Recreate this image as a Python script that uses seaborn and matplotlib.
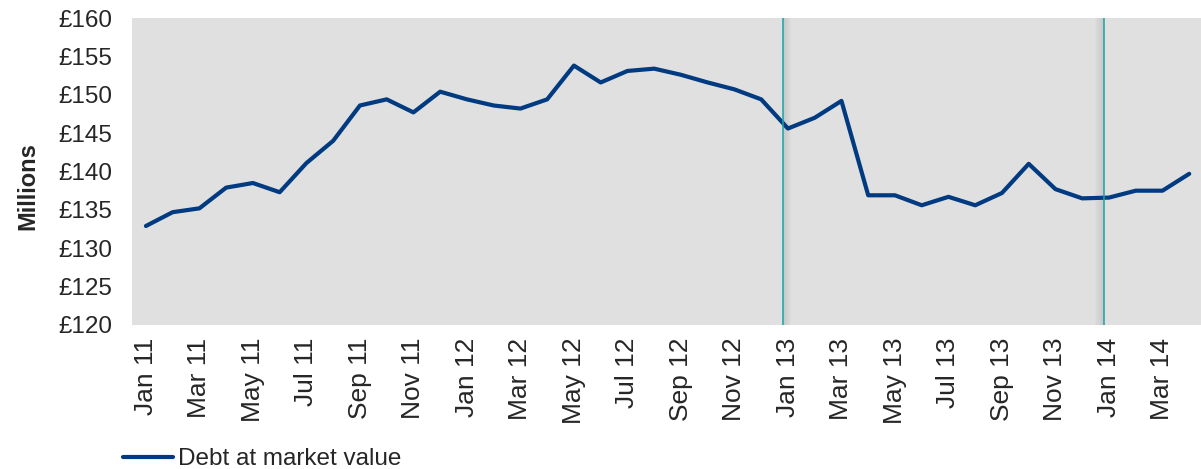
import matplotlib
matplotlib.use("Agg")
import matplotlib.pyplot as plt
import seaborn as sns
import pandas as pd
from matplotlib.lines import Line2D

months = ["Jan 11","Feb 11","Mar 11","Apr 11","May 11","Jun 11","Jul 11","Aug 11","Sep 11","Oct 11","Nov 11","Dec 11",
          "Jan 12","Feb 12","Mar 12","Apr 12","May 12","Jun 12","Jul 12","Aug 12","Sep 12","Oct 12","Nov 12","Dec 12",
          "Jan 13","Feb 13","Mar 13","Apr 13","May 13","Jun 13","Jul 13","Aug 13","Sep 13","Oct 13","Nov 13","Dec 13",
          "Jan 14","Feb 14","Mar 14","Apr 14"]
debt = [132.9, 134.7, 135.2, 137.9, 138.5, 137.3, 141.1, 144.0, 148.6, 149.4, 147.7, 150.4,
        149.4, 148.6, 148.2, 149.4, 153.8, 151.6, 153.1, 153.4, 152.6, 151.6, 150.7, 149.4,
        145.6, 147.0, 149.2, 136.9, 136.9, 135.6, 136.7, 135.6, 137.2, 141.0, 137.7, 136.5,
        136.6, 137.5, 137.5, 139.7]
yticks = [120, 125, 130, 135, 140, 145, 150, 155, 160]
series_name = "Debt at market value"

sns.set_theme(style="white")
plt.rcParams['font.family'] = ['Liberation Sans', 'DejaVu Sans']

df = pd.DataFrame({"idx": range(len(months)), "value": debt, "series": series_name})

fig = plt.figure(figsize=(12.01, 4.69), dpi=100)
ax = fig.add_axes([132/1201, 1-325/469, 1-132/1201, (325-18)/469])
ax.set_facecolor("#E0E0E0")

sns.lineplot(data=df, x="idx", y="value", hue="series", palette=["#003A80"],
             linewidth=3.0, ax=ax, legend=False)

# vertical markers with soft shadow
for pos, side in [(23.81, 1), (35.81, -1)]:
    for k in range(1, 9):
        ax.axvspan(pos, pos + side * 0.04 * k, color="#B0B0B0", alpha=0.07, lw=0)
    ax.axvline(pos, color="#1AA3A3", lw=1.1)

ax.set_xlim(-0.52, 39.44)
ax.set_ylim(120, 160)
ax.set_yticks(yticks)
ax.set_yticklabels([f"£{v}" for v in yticks], fontsize=17.5)
ax.set_xticks(range(0, len(months), 2))
ax.set_xticklabels(months[::2], rotation=90, fontsize=19)
ax.tick_params(axis="y", length=0, pad=14)
ax.tick_params(axis="x", length=0, pad=9)
ax.set_xlabel("")
ax.set_ylabel("Millions", fontsize=17, fontweight="bold")
ax.yaxis.set_label_coords(-0.087, 0.453)
for s in ax.spines.values():
    s.set_visible(False)

h = Line2D([], [], color="#003A80", lw=3)
fig.legend([h], [series_name], loc="center left", bbox_to_anchor=(123/1201, 1-459/469),
           frameon=False, fontsize=17.5, handlelength=2.06, handletextpad=0.2,
           borderpad=0, borderaxespad=0)

fig.savefig("out.png", dpi=100)
